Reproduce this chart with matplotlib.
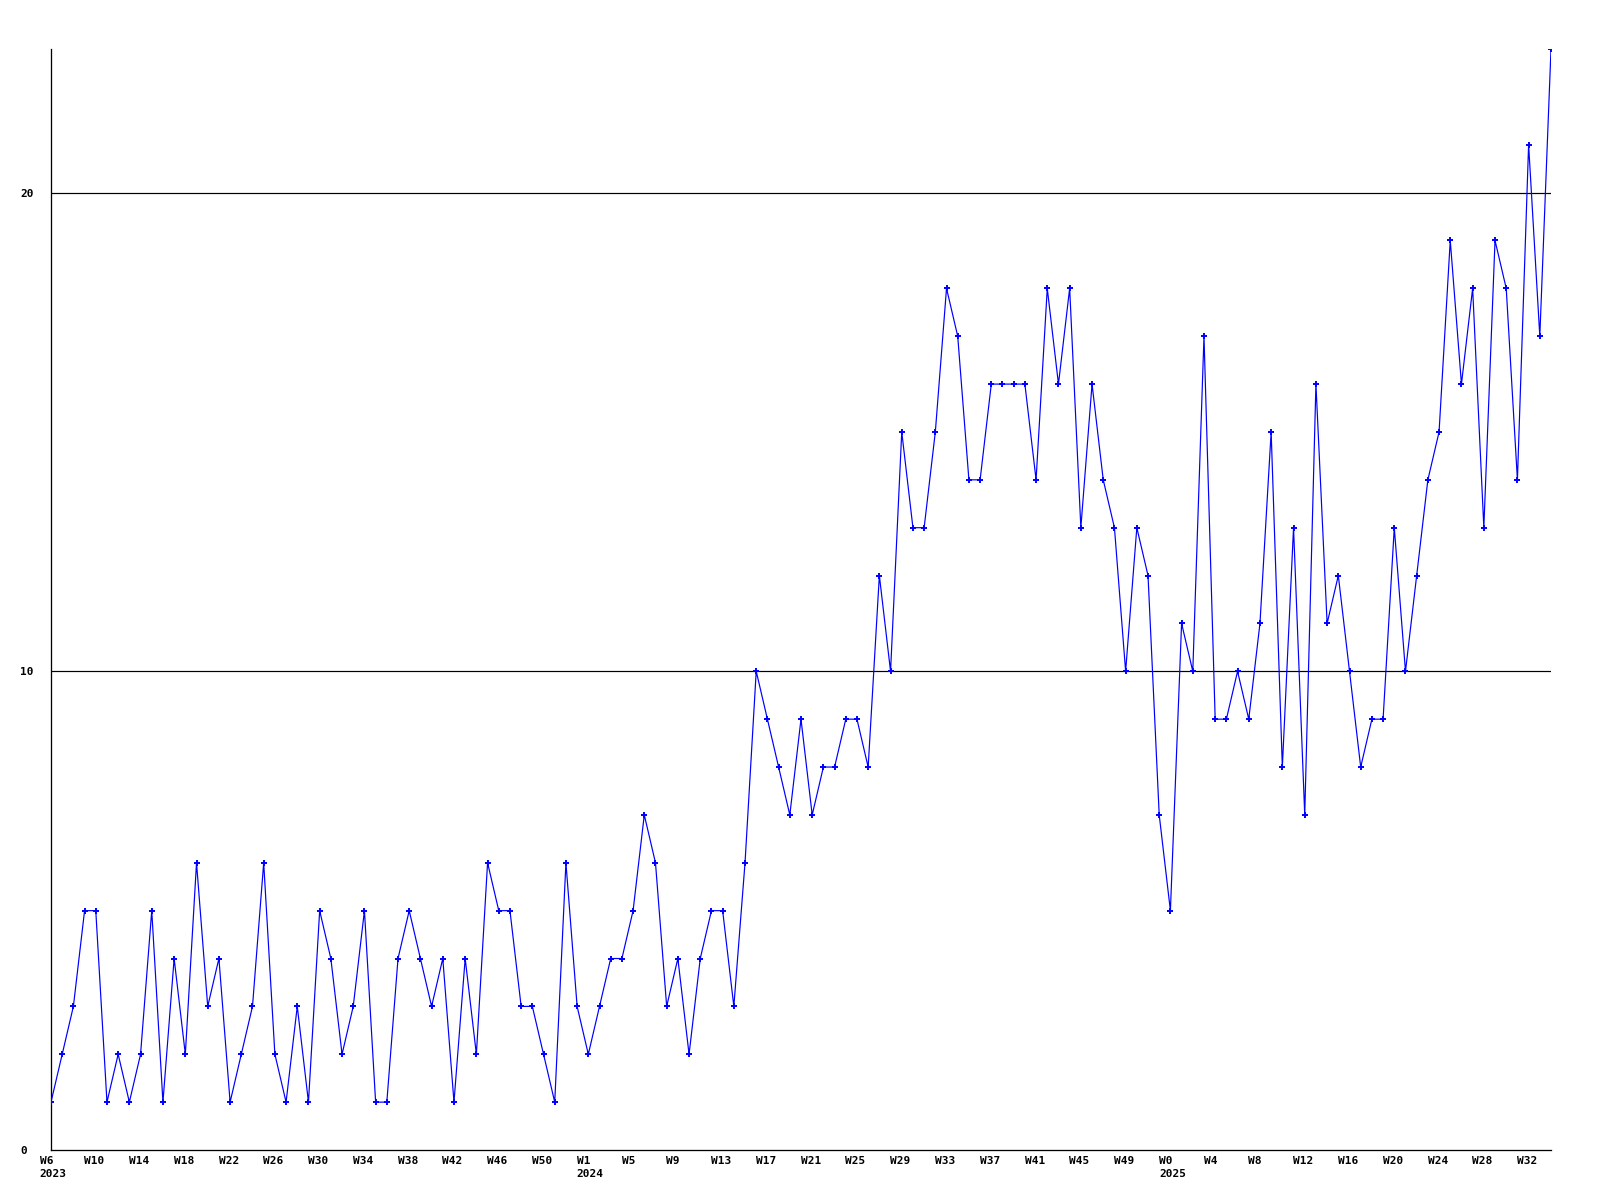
import matplotlib
matplotlib.use("Agg")
import matplotlib.pyplot as plt
import matplotlib.transforms as mtransforms

# weekly counts, W6 2023 .. W34 2025 (one point per week)
values = [1, 2, 3, 5, 5, 1, 2, 1, 2, 5, 1, 4, 2, 6, 3, 4, 1, 2, 3, 6,
          2, 1, 3, 1, 5, 4, 2, 3, 5, 1, 1, 4, 5, 4, 3, 4, 1, 4, 2, 6,
          5, 5, 3, 3, 2, 1, 6, 3, 2, 3, 4, 4, 5, 7, 6, 3, 4, 2, 4, 5,
          5, 3, 6, 10, 9, 8, 7, 9, 7, 8, 8, 9, 9, 8, 12, 10, 15, 13, 13, 15,
          18, 17, 14, 14, 16, 16, 16, 16, 14, 18, 16, 18, 13, 16, 14, 13, 10, 13, 12, 7,
          5, 11, 10, 17, 9, 9, 10, 9, 11, 15, 8, 13, 7, 16, 11, 12, 10, 8, 9, 9,
          13, 10, 12, 14, 15, 19, 16, 18, 13, 19, 18, 14, 21, 17, 23]

# x tick labels, one every 4 weeks
tick_labels = ["W6\n2023", "W10", "W14", "W18", "W22", "W26", "W30", "W34",
               "W38", "W42", "W46", "W50",
               "W1\n2024", "W5", "W9", "W13", "W17", "W21", "W25", "W29",
               "W33", "W37", "W41", "W45", "W49",
               "W0\n2025", "W4", "W8", "W12", "W16", "W20", "W24", "W28", "W32"]

y_ticks = [0, 10, 20]

W, H = 1600, 1200
fig = plt.figure(figsize=(16, 12), dpi=100)
fig.patch.set_facecolor("white")
ax = fig.add_axes([51 / W, 50 / H, 1500 / W, 1101 / H])

x = list(range(len(values)))
px = 72 / 100.0  # one pixel in points

for gy in y_ticks[1:]:
    ax.axhline(gy, color="black", lw=1.2 * px, zorder=1)

ax.plot(x, values, color="#0000ff", lw=1.2 * px, zorder=3,
        marker="+", markersize=4.5, markeredgewidth=1.4, markeredgecolor="#0000ff")

ax.set_xlim(0, len(values) - 1)
ax.set_ylim(0, 23)

for s in ["top", "right"]:
    ax.spines[s].set_visible(False)
for s in ["left", "bottom"]:
    ax.spines[s].set_linewidth(1.3 * px)
    ax.spines[s].set_color("black")

font = dict(family="DejaVu Sans Mono", weight="bold", size=8)

ax.set_yticks(y_ticks)
ax.set_yticklabels([str(v) for v in y_ticks], **font)
ax.tick_params(axis="y", length=0, pad=22)
for lab in ax.get_yticklabels():
    lab.set_horizontalalignment("left")

ax.set_xticks(list(range(0, 4 * len(tick_labels), 4)))
ax.set_xticklabels(tick_labels, **font)
ax.tick_params(axis="x", length=0, pad=4)
offset = mtransforms.ScaledTranslation(-11.5 / 100, 0, fig.dpi_scale_trans)
for lab in ax.get_xticklabels():
    lab.set_horizontalalignment("left")
    lab.set_multialignment("left")
    lab.set_linespacing(1.45)
    lab.set_transform(lab.get_transform() + offset)

fig.savefig("out.png", dpi=100, facecolor="white")
